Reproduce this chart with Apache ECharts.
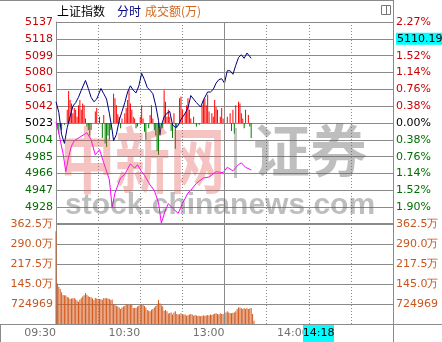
<!DOCTYPE html>
<html><head><meta charset="utf-8">
<script src="https://cdn.jsdelivr.net/npm/echarts@6/dist/echarts.min.js"></script>
<style>html,body{margin:0;padding:0;background:#fff;overflow:hidden}#c{width:442px;height:342px}</style>
</head><body><div id="c"></div>
<script>
const prevClose = 5023;
const priceTickLabels = ['5137','5118','5099','5080','5061','5042','5023','5004','4985','4966','4947','4928'];
const pctTickLabels = ['2.27%','1.90%','1.52%','1.14%','0.76%','0.38%','0.00%','0.38%','0.76%','1.14%','1.52%','1.90%'];
const volTickLabels = ['362.5万','290.0万','217.5万','145.0万','724969'];
const timeLabels = ['09:30','10:30','13:00','14:00'];
const timeLabelMinutes = [0,60,120,180];
const lastPrice = '5110.19';
const cursorTime = '14:18';
const cursorMinute = 198;

const priceMinutes = [0,2,4,6,8,10,12,14,16,18,21,23,25,27,29,32,34,36,38,40,41,43,45,47,49,51,53,55,57,59,61,63,65,67,69,71,73,74,75,77,79,81,83,85,87,89,92,94,96,98,100,103,105,108,110,112,114,116,118,120,122,124,126,128,130,132,134,136,137,139];
const priceValues = [5047,5035,5010,5000,5018,5030,5042,5046,5052,5060,5071,5062,5052,5047,5050,5062,5056,5050,5034,5015,5003,5010,5026,5036,5046,5058,5065,5060,5057,5065,5079,5072,5063,5060,5056,5043,5026,5010,5020,5030,5034,5036,5021,5018,5020,5027,5034,5040,5054,5050,5046,5041,5049,5058,5058,5061,5068,5072,5073,5068,5082,5082,5078,5088,5097,5100,5096,5102,5104,5096];

const avgMinutes = [0,2,4,5,7,9,11,13,16,20,22,25,28,31,34,38,40,42,46,49,53,56,58,61,63,67,70,73,75,78,80,83,87,90,94,96,100,105,109,114,119,122,126,130,132,135,139];
const avgValues = [5024,5012,4996,4989,4968,4985,4997,5003,5006,5010,5012,5004,4987,4993,4978,4959,4928,4944,4961,4965,4977,4972,4976,4968,4964,4953,4947,4933,4910,4925,4932,4927,4921,4932,4944,4947,4955,4961,4962,4968,4967,4973,4969,4976,4978,4973,4970];

const flowMinutes = [1,2,3,4,6,8,9,10,11,12,13,14,15,16,17,18,19,20,21,22,23,24,25,28,29,31,33,34,35,36,37,38,39,41,42,43,44,45,46,47,49,50,51,52,53,54,55,56,57,58,60,61,62,63,64,66,67,68,69,70,71,72,73,74,76,77,78,79,80,81,82,83,84,85,86,88,89,90,92,93,94,95,96,98,100,102,104,105,106,107,108,109,111,112,113,114,115,117,118,119,122,124,125,126,127,128,130,131,132,133,134,135,137,138,139];
const flowValues = [-4,-12,-4,-8,-2,15,36,26,22,11,17,15,7,20,26,15,22,20,5,-4,-8,-14,-8,13,17,7,-17,9,-23,-27,-14,-19,-8,33,28,20,10,7,-6,5,11,17,26,37,22,15,7,5,-6,-4,7,20,5,-10,-19,-6,9,20,5,-8,-14,-32,-36,-14,-6,37,24,7,15,7,-9,-17,11,-29,-6,28,30,15,11,20,28,15,5,7,-4,-2,20,26,28,20,32,13,11,7,26,18,15,7,17,5,7,11,-9,15,-12,20,24,22,11,5,-6,15,9,-4,-17];

// turnover per minute (万), minute 0 = 09:30
const volumes = [336,147,135,127,115,105,104,103,98,96, 91,92,93,94,90,85,81,88,94,100, 104,112,106,101,98,97,92,87,94,92, 91,91,90,88,94,93,93,92,91,87, 89,72,70,66,63,60,54,60,63,66, 72,70,69,71,72,58,58,58,63,66, 69,72,69,65,60,51,48,46,52,54, 60,65,70,87,75,68,63,48,51,46, 38,40,42,34,42,46,36,34,35,39, 34,34,34,30,32,34,36,34,30,33, 31,29,30,28,30,31,30,31,33,31, 34,33,35,37,39,36,34,39,36,36, 79,42,46,42,40,39,41,42,46,54, 60,60,57,54,58,54,58,54,56,58, 36,12];

const GRID_C = '#8a8a8a';
const RED = '#CC0000', GREEN = '#006E00', ORANGE = '#C8561E';
const FONT = 'DejaVu Sans';
const STEP = 19, SPAN = 114;

const priceData = priceMinutes.map((m,i)=>[m, priceValues[i]-prevClose]);
const avgData = avgMinutes.map((m,i)=>[m, avgValues[i]-prevClose]);
const flowData = flowMinutes.map((m,i)=>({value:[m, flowValues[i]], itemStyle:{color: flowValues[i]>=0 ? '#FF0000' : '#008000'}}));
const volData = volumes.map((v,i)=>[i, v]);

const richBase = {
  r:{color:RED,fontFamily:FONT,fontSize:11},
  k:{color:'#000',fontFamily:FONT,fontSize:11},
  g:{color:GREEN,fontFamily:FONT,fontSize:11},
  o:{color:ORANGE,fontFamily:FONT,fontSize:11},
  box:{color:'#000',backgroundColor:'#00FFFF',fontFamily:FONT,fontSize:11,padding:[1,1,0,1]}
};
function priceIdx(v){ return Math.round((SPAN - v)/STEP); }
function cls(i){ return i<6?'r':(i===6?'k':'g'); }

const dotted = {show:true, lineStyle:{color:GRID_C, type:[1,2], width:1}};
const solidSplit = {show:true, lineStyle:{color:GRID_C, type:'solid', width:1}};
const axLine = {show:true, lineStyle:{color:GRID_C, width:1}};

const chart = echarts.init(document.getElementById('c'), null, {renderer:'canvas'});
const option = {
  animation:false,
  backgroundColor:'#fff',
  grid:[
    {left:56, top:22, width:337, height:202, outerBoundsMode:'none', containLabel:false},
    {left:56, top:224, width:337, height:100, outerBoundsMode:'none', containLabel:false}
  ],
  xAxis:[
    {type:'value', gridIndex:0, min:0, max:240, interval:30, axisLine:{show:false}, axisTick:{show:false}, axisLabel:{show:false}, splitLine:dotted},
    {type:'value', gridIndex:1, min:0, max:240, interval:30, axisLine:axLine, axisTick:{show:false}, splitLine:dotted,
      axisLabel:{show:true, align:'right', margin:4, color:'#707070', fontFamily:FONT, fontSize:11,
        formatter:(v)=>{const i=timeLabelMinutes.indexOf(Math.round(v)); return i<0?'':timeLabels[i];}}}
  ],
  yAxis:[
    {type:'value', gridIndex:0, position:'left', min:-SPAN, max:SPAN, interval:STEP, axisLine:axLine, axisTick:{show:false}, splitLine:solidSplit,
      axisLabel:{margin:3, fontFamily:FONT, fontSize:11, rich:richBase,
        formatter:(v)=>{const i=priceIdx(v); if(i<0||i>=priceTickLabels.length) return ''; return '{'+cls(i)+'|'+priceTickLabels[i]+'}';}}},
    {type:'value', gridIndex:0, position:'right', min:-SPAN, max:SPAN, interval:STEP, axisLine:axLine, axisTick:{show:false}, splitLine:{show:false},
      axisLabel:{margin:3, fontFamily:FONT, fontSize:11, rich:richBase,
        formatter:(v)=>{const i=priceIdx(v); if(i<0||i>=pctTickLabels.length) return ''; if(i===1) return '{box|'+lastPrice+'}'; return '{'+cls(i)+'|'+pctTickLabels[i]+'}';}}},
    {type:'value', gridIndex:1, position:'left', min:0, max:362.5, interval:72.5, axisLine:axLine, axisTick:{show:false}, splitLine:solidSplit,
      axisLabel:{margin:3, fontFamily:FONT, fontSize:11, rich:richBase,
        formatter:(v)=>{const i=Math.round((362.5-v)/72.5); if(i<0||i>=volTickLabels.length) return ''; return '{o|'+volTickLabels[i]+'}';}}},
    {type:'value', gridIndex:1, position:'right', min:0, max:362.5, interval:72.5, axisLine:axLine, axisTick:{show:false}, splitLine:{show:false},
      axisLabel:{margin:3, fontFamily:FONT, fontSize:11, rich:richBase,
        formatter:(v)=>{const i=Math.round((362.5-v)/72.5); if(i<0||i>=volTickLabels.length) return ''; return '{o|'+volTickLabels[i]+'}';}}}
  ],
  series:[
    {type:'bar', xAxisIndex:0, yAxisIndex:0, data:flowData, barWidth:1, silent:true,
      markLine:{silent:true, symbol:'none', label:{show:false}, lineStyle:{color:GRID_C, type:'solid', width:1}, data:[{xAxis:120}]}},
    {type:'line', xAxisIndex:0, yAxisIndex:0, data:avgData, showSymbol:false, symbol:'none', lineStyle:{color:'#FF00FF', width:1}, z:3},
    {type:'line', xAxisIndex:0, yAxisIndex:0, data:priceData, showSymbol:false, symbol:'none', lineStyle:{color:'#000080', width:1}, z:4},
    {type:'bar', xAxisIndex:1, yAxisIndex:2, data:volData, barWidth:1, itemStyle:{color:'#D25A1E'}, silent:true,
      markLine:{silent:true, symbol:'none', label:{show:false}, lineStyle:{color:GRID_C, type:'solid', width:1}, data:[{xAxis:120}]}}
  ]
};
chart.setOption(option);

const cx = chart.convertToPixel({xAxisIndex:1}, cursorMinute);
const wmFill = 'rgba(100,100,100,0.42)';
chart.setOption({graphic:[
  {type:'text', left:57, top:5, style:{text:'上证指数', fill:'#000', font:'12px "Noto Sans CJK SC"'}},
  {type:'text', left:117, top:5, style:{text:'分时', fill:'#000080', font:'12px "Noto Sans CJK SC"'}},
  {type:'text', left:145, top:5, style:{text:'成交额(万)', fill:'#D2691E', font:'12px "Noto Sans CJK SC"'}},
  {type:'line', shape:{x1:0,y1:0.5,x2:393,y2:0.5}, style:{stroke:GRID_C,lineWidth:1}},
  {type:'line', shape:{x1:393.5,y1:0,x2:393.5,y2:342}, style:{stroke:GRID_C,lineWidth:1}},
  {type:'line', shape:{x1:0,y1:324.5,x2:442,y2:324.5}, style:{stroke:GRID_C,lineWidth:1}},
  {type:'line', shape:{x1:0.5,y1:324,x2:0.5,y2:342}, style:{stroke:GRID_C,lineWidth:1}},
  {type:'line', shape:{x1:56,y1:223.5,x2:393,y2:223.5}, style:{stroke:GRID_C,lineWidth:1}},
  {type:'rect', shape:{x:381.5,y:5.5,width:9,height:9}, style:{fill:'#fff',stroke:'#777',lineWidth:1}},
  {type:'line', shape:{x1:386.5,y1:5.5,x2:386.5,y2:14.5}, style:{stroke:'#777',lineWidth:1}},
  // watermark
  {type:'text', x:60, y:124, scaleY:1.3, z:50, style:{text:'中新网', fill:'rgba(230,90,90,0.36)', font:'bold 55px "Noto Sans CJK SC"'}},
  {type:'rect', z:50, shape:{x:234,y:128,width:3,height:50}, style:{fill:'rgba(110,110,110,0.4)'}},
  {type:'text', x:253, y:122, z:50, style:{text:'证券', fill:wmFill, font:'bold 57px "Noto Sans CJK SC"'}},
  {type:'text', x:65, y:191, z:50, style:{text:'stock.chinanews.com', fill:wmFill, font:'bold 30px "Liberation Sans"'}},
  // cursor time box
  {type:'rect', z:60, shape:{x:cx-31,y:325,width:31,height:17}, style:{fill:'#00FFFF'}},
  {type:'text', z:61, x:cx-15.5, y:333.5, style:{text:cursorTime, fill:'#000', font:'11px "DejaVu Sans"', align:'center', verticalAlign:'middle'}}
]});
</script>
</body></html>
